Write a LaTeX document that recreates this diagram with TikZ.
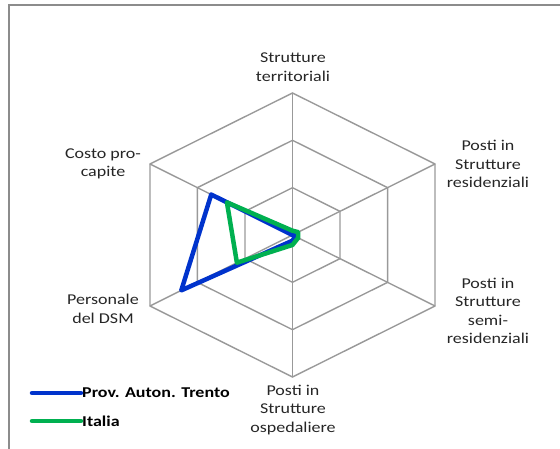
\documentclass[tikz,border=0pt]{standalone}
\usepackage{fontspec}
\setmainfont{Carlito}[FakeStretch=1.2]
\usetikzlibrary{arrows,shapes}
\definecolor{trentoblue}{RGB}{0,51,204}
\definecolor{italiagreen}{RGB}{0,176,80}
\tikzstyle{frame}=[draw=black!45,line width=1.8pt]
\tikzstyle{grid}=[draw=black!40,line width=1.4pt]
\tikzstyle{axislabel}=[align=center,font=\fontsize{15}{18.5}\selectfont,text=black!85,inner sep=0pt]
\tikzstyle{legendtext}=[anchor=west,font=\fontsize{15}{18.5}\selectfont\bfseries,inner sep=1pt]
\tikzstyle{trento}=[draw=trentoblue,line width=4.5pt,line join=round]
\tikzstyle{italia}=[draw=italiagreen,line width=4.5pt,line join=round]

\begin{document}
\begin{tikzpicture}[x=1pt,y=1pt]
    \useasboundingbox (0,0) rectangle (560,449);
    % Outer frame of the chart area
    \draw[frame] (9,0) -- (9,444) -- (561,444);
    % Radar grid: three hexagons and the six axes
    \begin{scope}[shift={(292.5,214)},xscale=1.159]
        \foreach \r in {47.3,94.7,142}
            \draw[grid] (90:\r) -- (30:\r) -- (-30:\r) -- (-90:\r) -- (-150:\r) -- (150:\r) -- cycle;
        \coordinate (ctr) at (0,0);
        \foreach \ang/\name in {90/ter, 30/res, -30/semi, -90/osp, -150/pers, 150/costo}{
            \coordinate (\name) at (\ang:142);
            \path[grid] (ctr) -- (\name);
        }
        % Data points, as fraction of the outer ring
        \foreach \ang/\val in {90/0.0, 30/0.02, -30/0.02, -90/0.04, -150/0.78, 150/0.57}
            \coordinate (b\ang) at (\ang:{\val*142});
        \foreach \ang/\val in {90/0.03, 30/0.04, -30/0.04, -90/0.07, -150/0.39, 150/0.46}
            \coordinate (g\ang) at (\ang:{\val*142});
        \path[trento] (b90) -- (b30) -- (b-30) -- (b-90) -- (b-150) -- (b150) -- cycle;
        \path[italia] (g90) -- (g30) -- (g-30) -- (g-90) -- (g-150) -- (g150) -- cycle;
    \end{scope}
    % Axis labels
    \foreach \pos/\name/\txt in {{(293,382)/lblter/Strutture\\territoriali},
                                 {(488,285)/lblres/Posti in\\Strutture\\residenziali},
                                 {(488,138)/lblsemi/Posti in\\Strutture\\semi-\\residenziali},
                                 {(293,39)/lblosp/Posti in\\Strutture\\ospedaliere},
                                 {(103,285)/lblcosto/Costo pro-\\capite},
                                 {(103,140)/lblpers/Personale\\del DSM}}
        \node[axislabel] (\name) at \pos {\txt};
    % Legend
    \node[legendtext] (legtrento) at (81,56) {Prov. Auton. Trento};
    \node[legendtext] (legitalia) at (81,28) {Italia};
    \coordinate (legtrentostart) at (32,56);
    \coordinate (legitaliastart) at (32,28);
    \path[trento,line cap=round] (legtrentostart) -- (legtrento.west);
    \path[italia,line cap=round] (legitaliastart) -- (legitalia.west);
\end{tikzpicture}
\end{document}
